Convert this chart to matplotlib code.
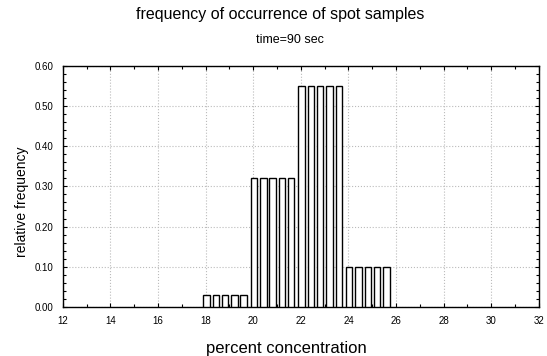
import numpy as np
import matplotlib.pyplot as plt
from matplotlib.ticker import MultipleLocator

plt.rcParams["font.family"] = ["Liberation Sans", "DejaVu Sans"]

# left edges of the bars (percent concentration) and relative frequency
bar_left = [17.90, 18.29, 18.68, 19.07, 19.46,
            19.90, 20.29, 20.68, 21.07, 21.46,
            21.90, 22.29, 22.68, 23.07, 23.46,
            23.90, 24.29, 24.68, 25.07, 25.46]
rel_freq = [0.03, 0.03, 0.03, 0.03, 0.03,
            0.32, 0.32, 0.32, 0.32, 0.32,
            0.55, 0.55, 0.55, 0.55, 0.55,
            0.10, 0.10, 0.10, 0.10, 0.10]
x_ticks = [12, 14, 16, 18, 20, 22, 24, 26, 28, 30, 32]
y_ticks = [0.0, 0.1, 0.2, 0.3, 0.4, 0.5, 0.6]

fig = plt.figure(figsize=(5.47, 3.56), dpi=100)
ax = fig.add_axes([0.115, 0.138, 0.870, 0.677])

ax.bar(bar_left, rel_freq, width=0.27, align="edge",
       color="white", edgecolor="black", linewidth=1.0, zorder=3)

ax.set_xlim(12, 32)
ax.set_ylim(0, 0.6)
ax.set_xticks(x_ticks)
ax.set_yticks(y_ticks)
ax.set_yticklabels([f"{v:.2f}" for v in y_ticks])
ax.xaxis.set_minor_locator(MultipleLocator(1))
ax.yaxis.set_minor_locator(MultipleLocator(0.02))
ax.tick_params(which="both", direction="in", top=True, right=True,
               labelsize=7, width=0.8)
ax.tick_params(axis="x", which="major", pad=6.5)
ax.tick_params(axis="y", which="major", pad=7)
ax.tick_params(which="major", length=3)
ax.tick_params(which="minor", length=2)
ax.grid(True, which="major", linestyle=":", color="#bbbbbb", linewidth=0.8, zorder=0)
for s in ax.spines.values():
    s.set_linewidth(1.0)

fig.text(280 / 547, 1 - 15 / 356, "frequency of occurrence of spot samples",
         ha="center", va="center", fontsize=11.5)
fig.text(290 / 547, 1 - 40 / 356, "time=90 sec", ha="center", va="center", fontsize=9)
fig.text(286 / 547, 1 - 348 / 356, "percent concentration",
         ha="center", va="center", fontsize=12)
fig.text(22 / 547, 1 - 202 / 356, "relative frequency",
         ha="center", va="center", rotation=90, fontsize=10)

fig.savefig("out.png", dpi=100)
